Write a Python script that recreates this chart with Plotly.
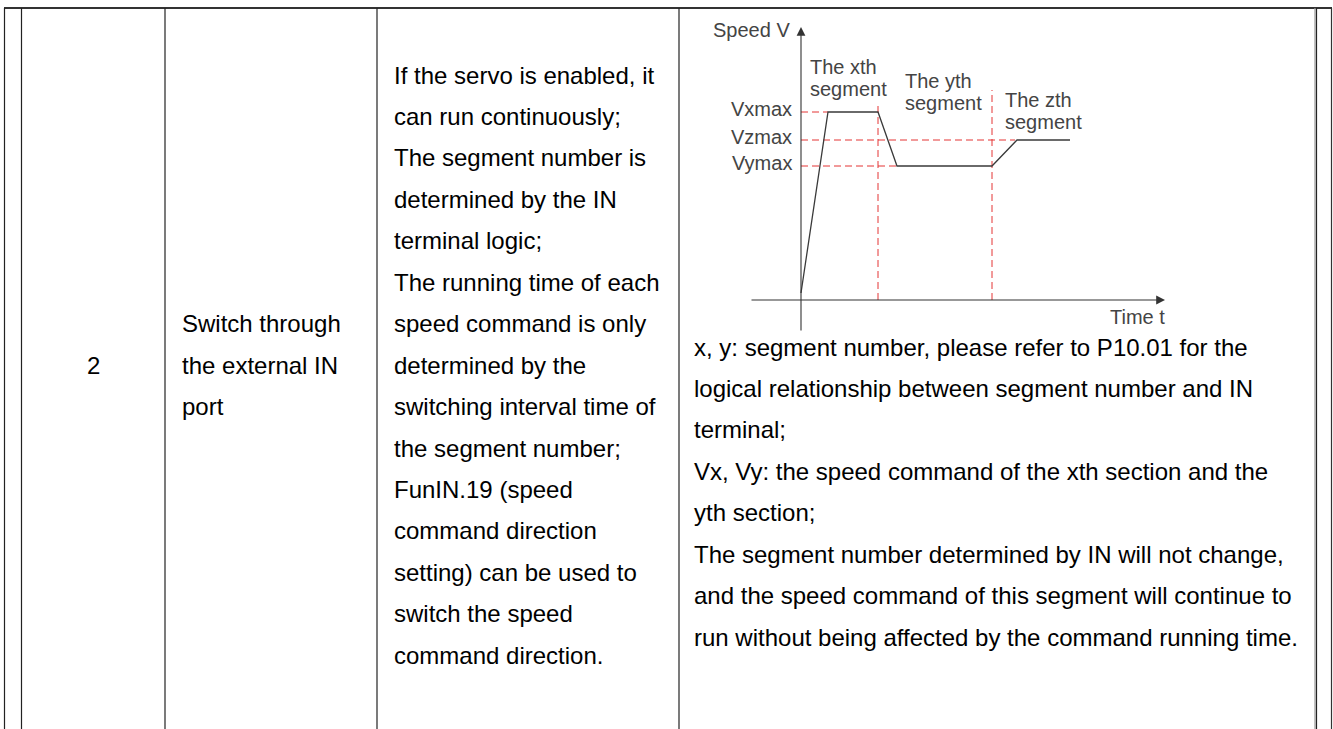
import plotly.graph_objects as go

W, H = 1333, 729

# ---------------- embedded chart data (time units / speed units) ----------------
t_profile = [0, 27, 77, 96, 191, 216, 269]
v_profile = [7, 188, 188, 134, 134, 160, 160]
level_names = ["Vxmax", "Vzmax", "Vymax"]
level_values = [188, 160, 134]
level_reach_t = [27, 214, 96]
segment_bounds = [77, 191]
bound_tops = [198, 210]
segment_titles = ["The xth", "The yth", "The zth"]
segment_sub = ["segment", "segment", "segment"]
segment_label_t = [7, 102, 202]
segment_label_v = [233, 219, 200]
axis_y_title = "Speed V"
axis_x_title = "Time t"
t_range = [-51, 364]
v_range = [-32, 273]

# ---------------- table text ----------------
col1_text = "2"
col2_lines = ["Switch through", "the external IN", "port"]
col3_lines = [
    "If the servo is enabled, it",
    "can run continuously;",
    "The segment number is",
    "determined by the IN",
    "terminal logic;",
    "The running time of each",
    "speed command is only",
    "determined by the",
    "switching interval time of",
    "the segment number;",
    "FunIN.19 (speed",
    "command direction",
    "setting) can be used to",
    "switch the speed",
    "command direction.",
]
col4_lines = [
    "x, y: segment number, please refer to P10.01 for the",
    "logical relationship between segment number and IN",
    "terminal;",
    "Vx, Vy: the speed command of the xth section and the",
    "yth section;",
    "The segment number determined by IN will not change,",
    "and the speed command of this segment will continue to",
    "run without being affected by the command running time.",
]

FONT = "Liberation Sans, Arial, sans-serif"
RED = "rgb(228,52,52)"
DARK = "#333333"

fig = go.Figure()

# red dashed guide lines
for name, v, te in zip(level_names, level_values, level_reach_t):
    fig.add_trace(go.Scatter(x=[0, te], y=[v, v], mode="lines", xaxis="x2", yaxis="y2",
                             line=dict(color=RED, width=1, dash="7px,4px"), hoverinfo="skip",
                             showlegend=False))
for b, top in zip(segment_bounds, bound_tops):
    fig.add_trace(go.Scatter(x=[b, b], y=[0, top], mode="lines", xaxis="x2", yaxis="y2",
                             line=dict(color=RED, width=1, dash="7px,4px"), hoverinfo="skip",
                             showlegend=False))
# speed profile
fig.add_trace(go.Scatter(x=t_profile, y=v_profile, mode="lines", xaxis="x2", yaxis="y2",
                         line=dict(color="#3a3a3a", width=1.3), hoverinfo="skip", showlegend=False))

ann = []
# axes arrows
ann.append(dict(x=t_range[1], y=0, ax=t_range[0], ay=0, xref="x2", yref="y2", axref="x2", ayref="y2",
                text="", showarrow=True, arrowhead=2, arrowsize=1.6, arrowwidth=1.1,
                arrowcolor=DARK, standoff=0))
ann.append(dict(x=0, y=v_range[1], ax=0, ay=v_range[0], xref="x2", yref="y2", axref="x2", ayref="y2",
                text="", showarrow=True, arrowhead=2, arrowsize=1.6, arrowwidth=1.1,
                arrowcolor=DARK, standoff=0))
cfont = dict(family=FONT, size=20, color="#444444")
ann.append(dict(x=-9, y=270, xref="x2", yref="y2", text=axis_y_title, showarrow=False,
                xanchor="right", yanchor="middle", font=cfont))
ann.append(dict(x=t_range[1], y=-17, xref="x2", yref="y2", text=axis_x_title, showarrow=False,
                xanchor="right", yanchor="middle", xshift=2, font=cfont))
for name, v in zip(level_names, level_values):
    ann.append(dict(x=-7, y=v + 3, xref="x2", yref="y2", text=name, showarrow=False,
                    xanchor="right", yanchor="middle", font=cfont))
for t1, s1, tx, vy in zip(segment_titles, segment_sub, segment_label_t, segment_label_v):
    ann.append(dict(x=tx, y=vy, xref="x2", yref="y2", text=t1, showarrow=False,
                    xanchor="left", yanchor="middle", font=cfont))
    ann.append(dict(x=tx, y=vy - 22, xref="x2", yref="y2", text=s1, showarrow=False,
                    xanchor="left", yanchor="middle", font=cfont))

# table text (pixel layout)
tfont = dict(family=FONT, size=24, color="#000000")
LS = 41.45
y0_col3 = 75
ann.append(dict(x=93, y=y0_col3 + 7 * LS, xref="x", yref="y", text=col1_text, showarrow=False,
                xanchor="center", yanchor="middle", font=tfont))
for i, s in enumerate(col2_lines):
    ann.append(dict(x=180, y=y0_col3 + (6 + i) * LS, xref="x", yref="y", text=s, showarrow=False,
                    xanchor="left", yanchor="middle", font=tfont))
for i, s in enumerate(col3_lines):
    ann.append(dict(x=392, y=y0_col3 + i * LS, xref="x", yref="y", text=s, showarrow=False,
                    xanchor="left", yanchor="middle", font=tfont))
for i, s in enumerate(col4_lines):
    ann.append(dict(x=692, y=347 + i * LS, xref="x", yref="y", text=s, showarrow=False,
                    xanchor="left", yanchor="middle", font=tfont))

# table rules
shapes = []
shapes.append(dict(type="line", xref="x", yref="y", x0=4, x1=1332, y0=8, y1=8,
                   line=dict(color="#333333", width=2)))
for xv, col in [(4.5, "#222222"), (21.5, "#222222"), (165, "#222222"), (377, "#222222"),
                (679, "#222222"), (1315, "#999999"), (1316.5, "#222222"), (1331.5, "#333333")]:
    shapes.append(dict(type="line", xref="x", yref="y", x0=xv, x1=xv, y0=8, y1=H,
                       line=dict(color=col, width=1.2)))

fig.update_layout(
    width=W, height=H, autosize=False,
    margin=dict(l=0, r=0, t=0, b=0),
    paper_bgcolor="white", plot_bgcolor="white",
    xaxis=dict(range=[0, W], visible=False, domain=[0, 1], fixedrange=True),
    yaxis=dict(range=[H, 0], visible=False, domain=[0, 1], fixedrange=True),
    xaxis2=dict(range=t_range, visible=False, domain=[750 / W, 1165 / W], anchor="y2", fixedrange=True),
    yaxis2=dict(range=v_range, visible=False, domain=[1 - 332 / H, 1 - 27 / H], anchor="x2", fixedrange=True),
    annotations=ann, shapes=shapes, showlegend=False,
)

fig.write_html("out.html", config={"displayModeBar": False},
               post_script="document.body.style.margin='0';document.body.style.overflow='hidden';")
